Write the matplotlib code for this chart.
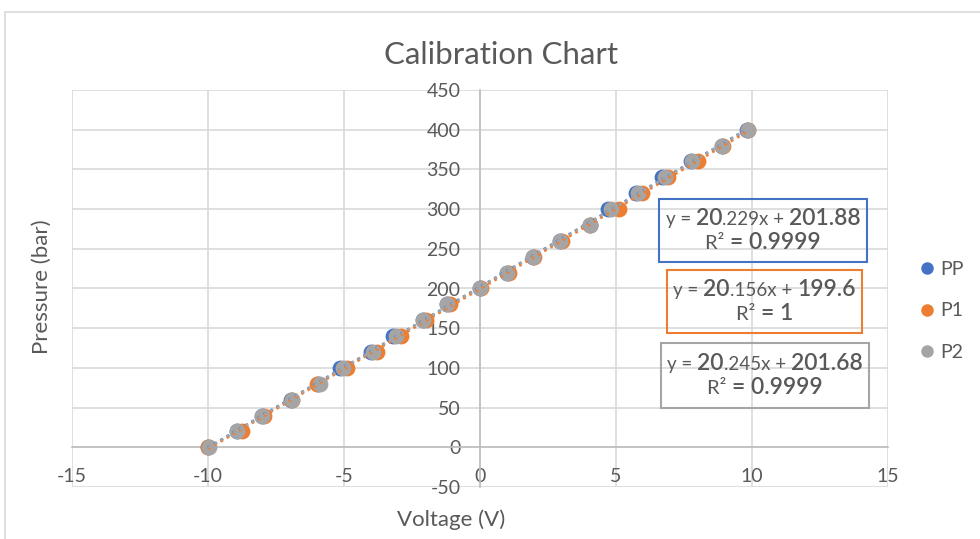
import numpy as np
import matplotlib
matplotlib.use("Agg")
import matplotlib.pyplot as plt
from matplotlib.lines import Line2D
from matplotlib.patches import Rectangle
from matplotlib.offsetbox import TextArea, HPacker, VPacker, AnnotationBbox

# ---- data -------------------------------------------------------------
pressure = [0, 20, 40, 60, 80, 100, 120, 140, 160, 180, 200,
            220, 240, 260, 280, 300, 320, 340, 360, 380, 400]
volt_pp = [-10.0, -8.95, -8.0, -6.95, -5.95, -5.15, -4.0, -3.2, -2.1, -1.2, 0.0,
           1.0, 1.95, 2.95, 4.05, 4.7, 5.75, 6.7, 7.75, 8.9, 9.8]
volt_p1 = [-10.0, -8.75, -7.95, -6.9, -6.0, -4.9, -3.8, -2.9, -2.0, -1.1, 0.05,
           1.05, 2.0, 3.0, 4.05, 5.1, 5.95, 6.9, 8.0, 8.95, 9.85]
volt_p2 = [-9.98, -8.95, -8.0, -6.9, -5.9, -5.05, -3.95, -3.1, -2.1, -1.2, 0.0,
           1.0, 1.95, 2.95, 4.05, 4.8, 5.8, 6.8, 7.8, 8.9, 9.85]

series_names = ["PP", "P1", "P2"]
series_volts = [volt_pp, volt_p1, volt_p2]
slopes = ["20.229", "20.156", "20.245"]
intercepts = ["201.88", "199.6", "201.68"]
r_squared = ["0.9999", "1", "0.9999"]
colors = ["#4472C4", "#ED7D31", "#A5A5A5"]

x_ticks = [-15, -10, -5, 0, 5, 10, 15]
y_ticks = [-50, 0, 50, 100, 150, 200, 250, 300, 350, 400, 450]

# ---- style ------------------------------------------------------------
FONT = "Lato"
TXT = "#595959"
GRID = "#D9D9D9"
AXIS = "#BFBFBF"
plt.rcParams["font.family"] = [FONT, "DejaVu Sans"]
plt.rcParams["axes.unicode_minus"] = False

W, H = 980, 539
fig = plt.figure(figsize=(W / 100, H / 100), dpi=100)


def fx(px):
    return px / W


def fy(py):
    return 1 - py / H


# chart area border
fig.add_artist(Rectangle((fx(5), fy(600)), fx(1000), fy(12) - fy(600),
                         transform=fig.transFigure, fill=False,
                         edgecolor="#D9D9D9", linewidth=1.2))

ax = fig.add_axes([fx(72), fy(487), fx(888) - fx(72), fy(90) - fy(487)])
ax.set_xlim(-15, 15)
ax.set_ylim(-50, 450)
ax.set_xticks(x_ticks)
ax.set_yticks(y_ticks)
ax.grid(True, color=GRID, linewidth=1.2)
ax.set_axisbelow(True)
for side in ("top", "right"):
    ax.spines[side].set_visible(False)
ax.spines["left"].set_position(("data", 0))
ax.spines["bottom"].set_position(("data", 0))
for side in ("left", "bottom"):
    ax.spines[side].set_color(AXIS)
    ax.spines[side].set_linewidth(1.2)
ax.tick_params(axis="both", length=0, labelsize=14, labelcolor=TXT)
ax.tick_params(axis="y", pad=14)
ax.tick_params(axis="x", pad=15)

# markers
for name, volts, col in zip(series_names, series_volts, colors):
    ax.scatter(volts, pressure, s=130, color=col, zorder=3, linewidths=0)

# linear trendlines from the fitted coefficients
for volts, col, m, b in zip(series_volts, colors, slopes, intercepts):
    xs = np.array([min(volts), max(volts)])
    ax.plot(xs, float(m) * xs + float(b), color=col, linewidth=2.0,
            linestyle=(0, (1, 1.6)), zorder=4)

# title and axis titles
fig.text(fx(501), fy(55), "Calibration Chart", ha="center", va="center",
         fontsize=22.5, color=TXT)
fig.text(fx(451), fy(520), "Voltage (V)", ha="center", va="center",
         fontsize=16, color=TXT)
fig.text(fx(42), fy(287), "Pressure (bar)", ha="center", va="center",
         fontsize=16, color=TXT, rotation=90)

# legend
handles = [Line2D([], [], marker="o", linestyle="none", markersize=9,
                  markerfacecolor=c, markeredgewidth=0) for c in colors]
fig.legend(handles, series_names, loc="center left",
           bbox_to_anchor=(fx(898), fy(311)), frameon=False,
           fontsize=14, labelcolor=TXT, handletextpad=0.05,
           labelspacing=1.25, handlelength=1.2)

# equation boxes
boxes = [((659, 199), (867, 262)), ((667, 270), (862, 333)), ((661, 343), (869, 408))]
SMALL, BIG = 13.5, 16.5
for (p0, p1), col, m, b, r2 in zip(boxes, colors, slopes, intercepts, r_squared):
    fig.add_artist(Rectangle((fx(p0[0]), fy(p1[1])), fx(p1[0]) - fx(p0[0]),
                             fy(p0[1]) - fy(p1[1]), transform=fig.transFigure,
                             fill=False, edgecolor=col, linewidth=1.5))
    whole, frac = m.split(".")

    def ta(s, size, weight="normal"):
        return TextArea(s, textprops=dict(fontsize=size, color=TXT, family=FONT,
                                          weight=weight))

    line1 = HPacker(children=[ta("y = ", SMALL), ta(whole, BIG, "semibold"),
                              ta("." + frac + "x + ", SMALL), ta(b, BIG, "semibold")],
                    align="baseline", pad=0, sep=0)
    line2 = HPacker(children=[ta("R\u00b2 ", SMALL + 1), ta("= " + r2, BIG, "semibold")],
                    align="baseline", pad=0, sep=0)
    block = VPacker(children=[line1, line2], align="center", pad=0, sep=2)
    cx = (p0[0] + p1[0]) / 2
    cy = (p0[1] + p1[1]) / 2
    fig.add_artist(AnnotationBbox(block, (fx(cx), fy(cy)), xycoords="figure fraction",
                                  frameon=False, box_alignment=(0.5, 0.5)))

fig.savefig("out.png", dpi=100)
